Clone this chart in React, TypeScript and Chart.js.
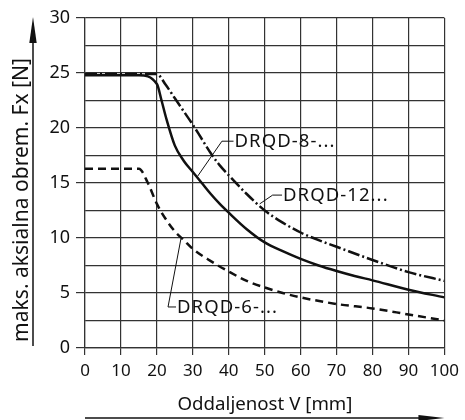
import React, { useEffect, useRef } from "react";
import { Chart, registerables } from "chart.js";

Chart.register(...registerables);

// Data
const distance8 = [0, 15, 20, 21.3, 22.5, 25, 27.5, 30, 32.5, 35, 37.5, 40, 45, 50, 55, 60, 65, 70, 75, 80, 90, 100];
const force8 = [24.8, 24.8, 24.0, 22.5, 21.0, 18.4, 17.0, 16.0, 15.0, 14.0, 13.1, 12.3, 10.8, 9.6, 8.8, 8.1, 7.5, 7.0, 6.55, 6.15, 5.3, 4.6];

const distance12 = [0, 20, 22.5, 25, 27.5, 30, 32.5, 35, 37.5, 40, 45, 50, 55, 60, 65, 70, 80, 90, 100];
const force12 = [24.9, 24.9, 23.9, 22.7, 21.5, 20.3, 19.0, 17.7, 16.6, 15.7, 14.0, 12.5, 11.4, 10.5, 9.8, 9.2, 8.0, 6.9, 6.1];

const distance6 = [0, 15, 17.5, 20, 22.5, 25, 27.5, 30, 35, 40, 45, 50, 55, 60, 70, 80, 90, 100];
const force6 = [16.3, 16.3, 15.0, 13.1, 11.7, 10.6, 9.8, 9.0, 7.9, 6.95, 6.1, 5.5, 5.0, 4.6, 4.0, 3.6, 3.05, 2.5];

const xTicks = [0, 10, 20, 30, 40, 50, 60, 70, 80, 90, 100];
const yTickLabels = [0, 5, 10, 15, 20, 25, 30];

const xTitle = "Oddaljenost V [mm]";
const yTitle = "maks. aksialna obrem. Fx [N]";

// Series label callouts (data coordinates)
const callouts = [
  { text: "DRQD-8-...", anchor: [31.3, 15.6], elbow: [38.1, 18.8], textX: 41.6 },
  { text: "DRQD-12...", anchor: [48.6, 13.1], elbow: [52.2, 13.9], textX: 55.1 },
  { text: "DRQD-6-...", anchor: [26.7, 9.95], elbow: [23.1, 3.73], textX: 25.6 },
];

const FONT = "'Noto Sans', 'DejaVu Sans', sans-serif";
const INK = "#111";
const GRID = "#333";

const toXY = (xs: number[], ys: number[]) => xs.map((x, i) => ({ x, y: ys[i] }));

// set a font size so that text has the wanted width
const fitFont = (ctx: CanvasRenderingContext2D, text: string, base: number, width: number) => {
  ctx.font = `${base}px ${FONT}`;
  const w = ctx.measureText(text).width;
  const size = (base * width) / w;
  ctx.font = `${size}px ${FONT}`;
};

const decorPlugin = {
  id: "decor",
  afterDatasetsDraw(chart: any) {
    const { ctx, scales } = chart;
    const sx = scales.x;
    const sy = scales.y;
    ctx.save();
    ctx.strokeStyle = INK;
    ctx.fillStyle = INK;
    ctx.lineWidth = 1;
    ctx.font = `18.5px ${FONT}`;
    const natural = ctx.measureText("DRQD-8-...").width;
    const spacing = Math.max(0, (101 - natural) / 10);
    try {
      (ctx as any).letterSpacing = `${spacing}px`;
    } catch (e) {}
    ctx.textBaseline = "middle";
    ctx.textAlign = "left";
    for (const c of callouts) {
      const ax = sx.getPixelForValue(c.anchor[0]);
      const ay = sy.getPixelForValue(c.anchor[1]);
      const ex = sx.getPixelForValue(c.elbow[0]);
      const ey = sy.getPixelForValue(c.elbow[1]);
      const tx = sx.getPixelForValue(c.textX);
      ctx.beginPath();
      ctx.moveTo(ax, ay);
      ctx.lineTo(ex, ey);
      ctx.lineTo(tx - 1, ey);
      ctx.stroke();
      ctx.fillText(c.text, tx, ey + 1);
    }
    ctx.restore();
  },
  afterDraw(chart: any) {
    const { ctx, chartArea } = chart;
    ctx.save();
    ctx.fillStyle = INK;
    ctx.strokeStyle = INK;
    ctx.lineWidth = 1.5;
    // vertical arrow
    const ax = 33;
    ctx.beginPath();
    ctx.moveTo(ax, chartArea.bottom - 2);
    ctx.lineTo(ax, 40);
    ctx.stroke();
    ctx.beginPath();
    ctx.moveTo(ax, 17);
    ctx.lineTo(ax - 3.7, 43);
    ctx.lineTo(ax + 3.7, 43);
    ctx.closePath();
    ctx.fill();
    // horizontal arrow
    const ay = 418;
    ctx.beginPath();
    ctx.moveTo(chartArea.left, ay);
    ctx.lineTo(chartArea.right - 20, ay);
    ctx.stroke();
    ctx.beginPath();
    ctx.moveTo(chartArea.right, ay);
    ctx.lineTo(chartArea.right - 26, ay - 3);
    ctx.lineTo(chartArea.right - 26, ay + 3);
    ctx.closePath();
    ctx.fill();
    // titles
    ctx.textAlign = "center";
    ctx.textBaseline = "alphabetic";
    fitFont(ctx, xTitle, 18, 175);
    ctx.fillText(xTitle, 265, 410);
    fitFont(ctx, yTitle, 18, 284);
    ctx.translate(28, 200);
    ctx.rotate(-Math.PI / 2);
    ctx.fillText(yTitle, 0, 0);
    ctx.restore();
  },
};

export default function App() {
  const ref = useRef<HTMLCanvasElement | null>(null);
  useEffect(() => {
    if (!ref.current) return;
    const common = {
      borderColor: INK,
      borderWidth: 2.5,
      pointRadius: 0,
      cubicInterpolationMode: "monotone",
      fill: false,
      borderJoinStyle: "round",
    };
    const chart = new Chart(ref.current, {
      type: "line",
      data: {
        datasets: [
          { label: "DRQD-8-...", data: toXY(distance8, force8), ...common },
          { label: "DRQD-12...", data: toXY(distance12, force12), ...common, borderDash: [12, 3, 2, 3] },
          { label: "DRQD-6-...", data: toXY(distance6, force6), ...common, borderDash: [8, 5] },
        ],
      },
      options: {
        animation: false,
        responsive: false,
        maintainAspectRatio: false,
        layout: { padding: { left: 0, right: 13, top: 18, bottom: 0 } },
        plugins: { legend: { display: false }, tooltip: { enabled: false } },
        scales: {
          x: {
            type: "linear",
            min: 0,
            max: 100,
            afterBuildTicks: (s: any) => {
              s.ticks = xTicks.map((v) => ({ value: v }));
            },
            ticks: {
              color: INK,
              font: { family: FONT, size: 17 },
              padding: 6,
              maxRotation: 0,
              autoSkip: false,
            },
            grid: { color: GRID, lineWidth: 1.2, tickLength: 7, tickColor: GRID },
            border: { color: GRID, width: 1.2 },
            afterFit: (s: any) => {
              s.height = 72;
            },
          },
          y: {
            type: "linear",
            min: 0,
            max: 30,
            ticks: {
              stepSize: 2.5,
              color: INK,
              font: { family: FONT, size: 18 },
              padding: 6,
              autoSkip: false,
              callback: (v: any) => (yTickLabels.includes(Number(v)) ? String(v) : ""),
            },
            grid: {
              color: GRID,
              lineWidth: 1.2,
              tickLength: 9,
              tickColor: (c: any) =>
                c.tick && yTickLabels.includes(c.tick.value) ? GRID : "rgba(0,0,0,0)",
            },
            border: { color: GRID, width: 1.2 },
            afterFit: (s: any) => {
              s.width = 85;
            },
          },
        },
      },
      plugins: [decorPlugin],
    } as any);
    return () => chart.destroy();
  }, []);
  return (
    <div style={{ position: "fixed", left: 0, top: 0, width: 465, height: 420, background: "#fff" }}>
      <canvas ref={ref} width={465} height={420} style={{ width: 465, height: 420, display: "block" }} />
    </div>
  );
}
